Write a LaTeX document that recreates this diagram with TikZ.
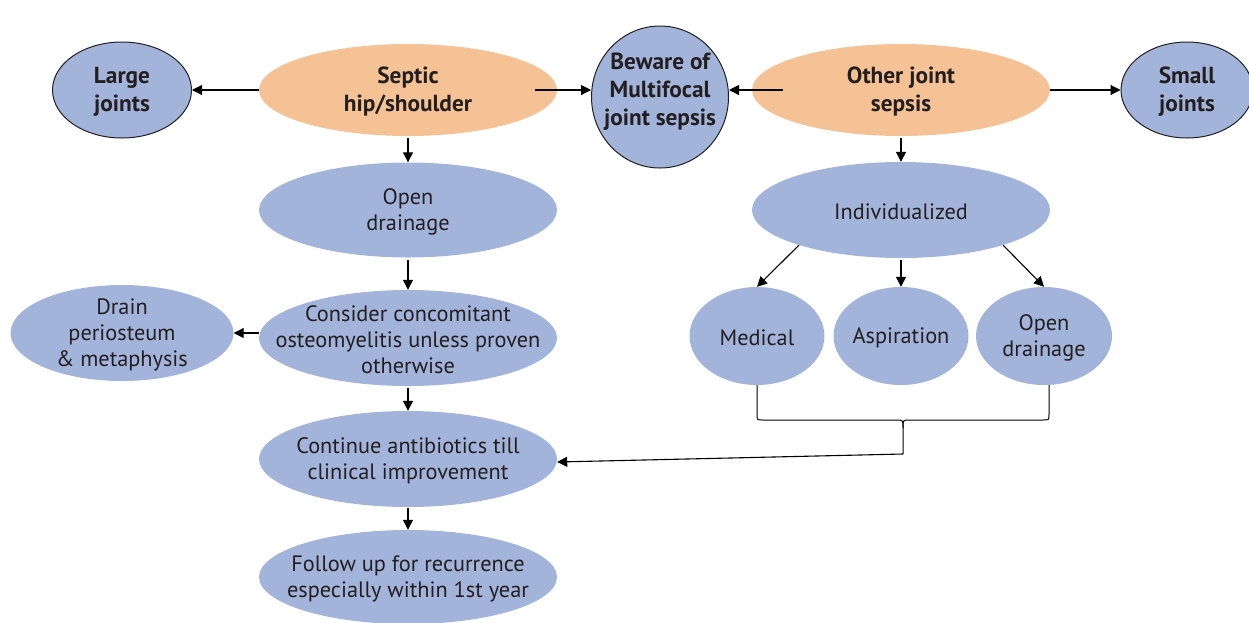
\documentclass[tikz,border=0pt]{standalone}
\usepackage{fontspec}
\setmainfont{PT Sans}
\usetikzlibrary{shapes.geometric,arrows.meta}
\definecolor{ellblue}{HTML}{A3B4DB}
\definecolor{ellorange}{HTML}{F5C295}
\definecolor{ink}{HTML}{231F20}
\begin{document}
\begin{tikzpicture}[x=1pt,y=-1pt,
  ell/.style={ellipse,inner sep=0pt,fill=ellblue},
  bell/.style={ell,draw=ink,line width=1pt},
  oell/.style={ellipse,inner sep=0pt,fill=ellorange},
  txt/.style={align=center,text=ink,font=\fontsize{22.3}{26}\selectfont,yshift=-2pt},
  btxt/.style={align=center,text=ink,font=\fontsize{23.3}{28}\selectfont\bfseries,yshift=-2pt},
  arr/.style={draw=black,line width=1.1pt,-{Triangle[length=10pt,width=10pt]}},
  conn/.style={draw=black,line width=1pt}]
\useasboundingbox (0,0) rectangle (1249,622);
% top row
\node[bell,minimum width=139,minimum height=96] (large) at (122,90) {};
\node[btxt] (large-t) at (large.center) {Large\\joints};
\node[oell,minimum width=298,minimum height=92] (septic) at (408,90) {};
\node[btxt] (septic-t) at (septic.center) {Septic\\hip/shoulder};
\node[bell,minimum width=137,minimum height=142] (beware) at (660,97) {};
\node[btxt,yshift=7pt] (beware-t) at (beware.center) {Beware of\\Multifocal\\joint sepsis};
\node[oell,minimum width=298,minimum height=92] (other) at (901,90) {};
\node[btxt] (other-t) at (other.center) {Other joint\\sepsis};
\node[bell,minimum width=132,minimum height=96] (small) at (1187,90) {};
\node[btxt] (small-t) at (small.center) {Small\\joints};
% left column
\node[ell,minimum width=298,minimum height=95] (open) at (408,210) {};
\node[txt] (open-t) at (open.center) {Open\\drainage};
\node[ell,minimum width=298,minimum height=96] (consider) at (408,338) {};
\node[txt] (consider-t) at (consider.center) {Consider concomitant\\osteomyelitis unless proven\\otherwise};
\node[ell,minimum width=223,minimum height=96] (drain) at (122,333) {};
\node[txt] (drain-t) at (drain.center) {Drain\\periosteum\\\& metaphysis};
\node[ell,minimum width=298,minimum height=96] (cont) at (408,459) {};
\node[txt] (cont-t) at (cont.center) {Continue antibiotics till\\clinical improvement};
\node[ell,minimum width=298,minimum height=94] (follow) at (408,577) {};
\node[txt] (follow-t) at (follow.center) {Follow up for recurrence\\especially within 1st year};
% right column
\node[ell,minimum width=298,minimum height=96] (indiv) at (901,210) {};
\node[txt] (indiv-t) at (indiv.center) {Individualized};
\node[ell,minimum width=135,minimum height=98] (medical) at (757,336) {};
\node[txt] (medical-t) at (medical.center) {Medical};
\node[ell,minimum width=135,minimum height=98] (asp) at (901,336) {};
\node[txt] (asp-t) at (asp.center) {Aspiration};
\node[ell,minimum width=136,minimum height=98] (open2) at (1044,336) {};
\node[txt] (open2-t) at (open2.center) {Open\\drainage};
% connectors
\draw[arr] (septic.west) -- (large.east);
\draw[arr] ([xshift=-22pt]septic.east) -- (beware.west |- septic.east);
\draw[arr] ([xshift=31pt]other.west) -- (beware.east |- other.west);
\draw[arr] (other.east) -- (small.west);
\draw[arr] ([yshift=-2pt]septic.south) -- (open.north);
\draw[arr] ([yshift=-2pt]open.south) -- (consider.north);
\draw[arr] (consider.west |- drain.east) -- (drain.east);
\draw[arr] ([yshift=-2pt]consider.south) -- (cont.north);
\draw[arr] ([yshift=-1pt]cont.south) -- (follow.north);
\draw[arr] ([yshift=-2pt]other.south) -- (indiv.north);
\draw[arr] (indiv.-161) -- (medical.north);
\draw[arr] ([yshift=-2pt]indiv.south) -- (asp.north);
\draw[arr] (indiv.-19) -- (open2.north);
% brace
\coordinate (tip) at (903,454);
\draw[conn] (medical.south) -- (757,414) .. controls (757,420) .. (763,420) -- (897,420) .. controls (903,420) .. (903,428) -- (tip);
\draw[conn] ([xshift=5pt]open2.south) -- (1049,414) .. controls (1049,420) .. (1043,420) -- (909,420) .. controls (903,420) .. (903,428);
\draw[arr] (tip) -- ([yshift=-3pt]cont.east);
\end{tikzpicture}
\end{document}
